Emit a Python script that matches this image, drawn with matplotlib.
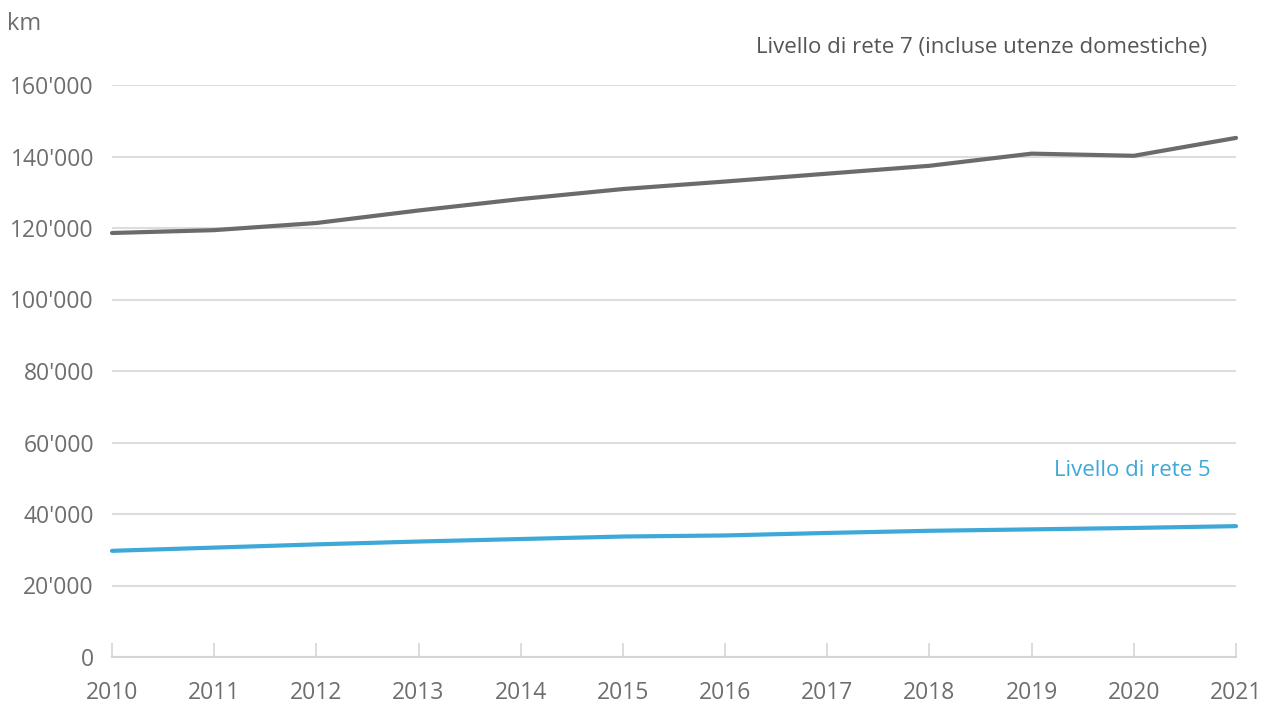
import numpy as np
import matplotlib.pyplot as plt
from matplotlib.ticker import FuncFormatter

# annual data (km)
years = np.arange(2010, 2022)
livello7 = [118600, 119400, 121400, 124900, 128100, 130900,
            133000, 135200, 137400, 140800, 140200, 145200]
livello5 = [29700, 30600, 31500, 32300, 33000, 33700,
            34000, 34700, 35300, 35700, 36100, 36600]
yticks = np.arange(0, 160001, 20000)

grey = '#6b6b6b'
blue = '#3ea8d8'
txt = '#6e6e6e'

plt.rcParams['font.family'] = ['Open Sans', 'DejaVu Sans']

fig = plt.figure(figsize=(12.74, 7.09), dpi=100)
ax = fig.add_axes([112/1274, 1-657/709, (1236-112)/1274, (657-85)/709])

ax.plot(years, livello7, color=grey, lw=3, solid_capstyle='round', clip_on=False, zorder=3)
ax.plot(years, livello5, color=blue, lw=3, solid_capstyle='round', clip_on=False, zorder=3)

ax.set_xlim(2010, 2021)
ax.set_ylim(0, 160000)
ax.set_xticks(years)
ax.set_yticks(yticks)
ax.yaxis.set_major_formatter(FuncFormatter(lambda v, p: f"{int(v):,}".replace(",", "'")))

ax.grid(axis='y', color='#dddddd', lw=1.5)
ax.set_axisbelow(True)
for s in ['top', 'right', 'left']:
    ax.spines[s].set_visible(False)
ax.spines['bottom'].set_color('#d5d5d5')
ax.spines['bottom'].set_linewidth(1.5)

ax.tick_params(axis='x', direction='in', length=10, width=1.2, color='#d5d5d5',
               labelsize=16.5, labelcolor=txt, pad=17)
ax.tick_params(axis='y', length=0, labelsize=16.5, labelcolor=txt, pad=13)

ax.text(2020.72, 170400, 'Livello di rete 7 (incluse utenze domestiche)', color='#555555',
        fontsize=16, ha='right', va='center', clip_on=False)
ax.text(2020.75, 52300, 'Livello di rete 5', color=blue,
        fontsize=16, ha='right', va='center')

fig.text(7/1274, 1-24/709, 'km', color=txt, fontsize=17, ha='left', va='center')

plt.savefig('out.png', dpi=100)
